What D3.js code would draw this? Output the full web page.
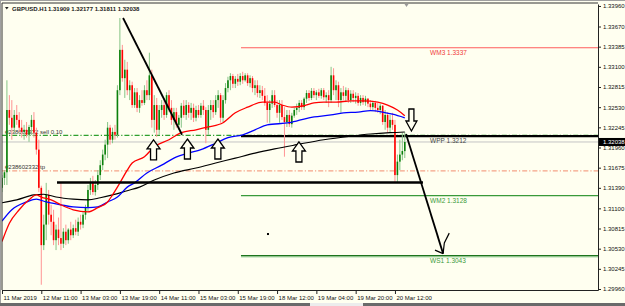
<!DOCTYPE html>
<html>
<head>
<meta charset="utf-8">
<script src="https://cdn.jsdelivr.net/npm/d3@7"></script>
<style>
body { margin: 0; background: #fffff0; }
svg { display: block; font-family: "Liberation Sans", Arial, sans-serif; }
</style>
</head>
<body>
<div id="chart"></div>
<script>
// GBPUSD H1 bars (bar 0 = 11 Mar 2019 19:00)
const opens = [
 1.3139,1.3153,1.3161,1.3249,1.3238,1.3224,1.3242,1.3235,1.3224,1.3218,
 1.3221,1.3214,1.3225,1.3235,1.3217,1.3193,1.3139,1.3058,1.3087,1.3129,
 1.3101,1.3091,1.3065,1.3080,1.3068,1.3060,1.3077,1.3065,1.3080,1.3072,
 1.3082,1.3077,1.3091,1.3087,1.3101,1.3111,1.3136,1.3146,1.3133,1.3143,
 1.3157,1.3171,1.3186,1.3200,1.3224,1.3207,1.3218,1.3214,1.3277,1.3334,
 1.3294,1.3306,1.3277,1.3284,1.3256,1.3274,1.3252,1.3263,1.3259,1.3277,
 1.3270,1.3298,1.3235,1.3256,1.3221,1.3249,1.3256,1.3242,1.3270,1.3252,
 1.3235,1.3246,1.3228,1.3238,1.3255,1.3242,1.3256,1.3245,1.3252,1.3238,
 1.3249,1.3242,1.3255,1.3249,1.3221,1.3249,1.3256,1.3246,1.3263,1.3270,
 1.3238,1.3263,1.3280,1.3291,1.3297,1.3286,1.3293,1.3289,1.3297,1.3291,
 1.3298,1.3287,1.3294,1.3280,1.3284,1.3273,1.3277,1.3269,1.3259,1.3249,
 1.3258,1.3270,1.3256,1.3245,1.3256,1.3239,1.3232,1.3242,1.3229,1.3241,
 1.3249,1.3252,1.3259,1.3253,1.3265,1.3273,1.3266,1.3276,1.3270,1.3274,
 1.3269,1.3277,1.3267,1.3270,1.3263,1.3298,1.3277,1.3284,1.3263,1.3274,
 1.3269,1.3277,1.3263,1.3272,1.3266,1.3269,1.3259,1.3266,1.3260,1.3265,
 1.3258,1.3253,1.3259,1.3252,1.3249,1.3255,1.3232,1.3242,1.3224,1.3235,
 1.3228,1.3157,1.3176,1.3186,1.31909
];
const highs = [
 1.3157,1.3164,1.3291,1.3270,1.3263,1.3249,1.3256,1.3246,1.3235,1.3228,
 1.3232,1.3228,1.3242,1.3246,1.3224,1.3207,1.3142,1.3101,1.3146,1.3136,
 1.3115,1.3108,1.3087,1.3097,1.3146,1.3082,1.3087,1.3082,1.3091,1.3087,
 1.3094,1.3097,1.3101,1.3105,1.3115,1.3143,1.3153,1.3156,1.3150,1.3164,
 1.3178,1.3193,1.3207,1.3232,1.3228,1.3224,1.3228,1.3284,1.3379,1.3341,
 1.3320,1.3317,1.3291,1.3289,1.3280,1.3280,1.3270,1.3277,1.3284,1.3291,
 1.3330,1.3306,1.3270,1.3266,1.3256,1.3263,1.3266,1.3274,1.3277,1.3263,
 1.3252,1.3252,1.3242,1.3259,1.3263,1.3263,1.3260,1.3259,1.3258,1.3255,
 1.3256,1.3259,1.3263,1.3253,1.3256,1.3263,1.3263,1.3270,1.3277,1.3273,
 1.3270,1.3287,1.3296,1.3301,1.3300,1.3297,1.3300,1.3301,1.3303,1.3301,
 1.3301,1.3298,1.3297,1.3291,1.3291,1.3284,1.3283,1.3280,1.3270,1.3263,
 1.3277,1.3277,1.3263,1.3263,1.3263,1.3253,1.3249,1.3249,1.3245,1.3252,
 1.3258,1.3263,1.3263,1.3267,1.3277,1.3277,1.3280,1.3280,1.3277,1.3279,
 1.3280,1.3280,1.3274,1.3277,1.3310,1.3308,1.3291,1.3289,1.3280,1.3283,
 1.3281,1.3280,1.3277,1.3277,1.3274,1.3273,1.3270,1.3270,1.3269,1.3266,
 1.3263,1.3262,1.3262,1.3259,1.3258,1.3256,1.3249,1.3246,1.3242,1.3245,
 1.3235,1.3186,1.3207,1.3217,1.32177
];
const lows = [
 1.3133,1.3143,1.3143,1.3228,1.3207,1.3218,1.3228,1.3218,1.3210,1.3207,
 1.3210,1.3204,1.3214,1.3210,1.3186,1.3133,1.3002,1.3051,1.3065,1.3087,
 1.3072,1.3058,1.3051,1.3058,1.3051,1.3054,1.3058,1.3060,1.3065,1.3068,
 1.3072,1.3071,1.3080,1.3082,1.3094,1.3105,1.3129,1.3129,1.3128,1.3136,
 1.3150,1.3164,1.3178,1.3181,1.3200,1.3202,1.3207,1.3210,1.3270,1.3289,
 1.3266,1.3270,1.3263,1.3252,1.3252,1.3246,1.3245,1.3255,1.3256,1.3263,
 1.3263,1.3224,1.3217,1.3211,1.3214,1.3238,1.3235,1.3238,1.3246,1.3228,
 1.3221,1.3224,1.3221,1.3224,1.3238,1.3235,1.3238,1.3235,1.3232,1.3233,
 1.3238,1.3238,1.3242,1.3202,1.3214,1.3235,1.3238,1.3242,1.3252,1.3231,
 1.3232,1.3258,1.3274,1.3277,1.3280,1.3280,1.3283,1.3284,1.3286,1.3289,
 1.3283,1.3281,1.3274,1.3270,1.3267,1.3266,1.3263,1.3255,1.3231,1.3231,
 1.3252,1.3253,1.3238,1.3231,1.3235,1.3183,1.3225,1.3225,1.3224,1.3238,
 1.3242,1.3246,1.3249,1.3249,1.3259,1.3262,1.3263,1.3266,1.3263,1.3266,
 1.3265,1.3263,1.3259,1.3253,1.3259,1.3270,1.3263,1.3253,1.3245,1.3263,
 1.3260,1.3259,1.3259,1.3260,1.3258,1.3255,1.3255,1.3256,1.3255,1.3253,
 1.3249,1.3249,1.3246,1.3245,1.3243,1.3228,1.3221,1.3217,1.3217,1.3221,
 1.3146,1.3146,1.3164,1.3178,1.31811
];
const closes = [
 1.3153,1.3161,1.3249,1.3238,1.3224,1.3242,1.3235,1.3224,1.3218,1.3221,
 1.3214,1.3225,1.3235,1.3217,1.3193,1.3139,1.3058,1.3087,1.3129,1.3101,
 1.3091,1.3065,1.3080,1.3068,1.3060,1.3077,1.3065,1.3080,1.3072,1.3082,
 1.3077,1.3091,1.3087,1.3101,1.3111,1.3136,1.3146,1.3133,1.3143,1.3157,
 1.3171,1.3186,1.3200,1.3224,1.3207,1.3218,1.3214,1.3277,1.3334,1.3294,
 1.3306,1.3277,1.3284,1.3256,1.3274,1.3252,1.3263,1.3259,1.3277,1.3270,
 1.3298,1.3235,1.3256,1.3221,1.3249,1.3256,1.3242,1.3270,1.3252,1.3235,
 1.3246,1.3228,1.3238,1.3255,1.3242,1.3256,1.3245,1.3252,1.3238,1.3249,
 1.3242,1.3255,1.3249,1.3221,1.3249,1.3256,1.3246,1.3263,1.3270,1.3238,
 1.3263,1.3280,1.3291,1.3297,1.3286,1.3293,1.3289,1.3297,1.3291,1.3298,
 1.3287,1.3294,1.3280,1.3284,1.3273,1.3277,1.3269,1.3259,1.3249,1.3258,
 1.3270,1.3256,1.3245,1.3256,1.3239,1.3232,1.3242,1.3229,1.3241,1.3249,
 1.3252,1.3259,1.3253,1.3265,1.3273,1.3266,1.3276,1.3270,1.3274,1.3269,
 1.3277,1.3267,1.3270,1.3263,1.3298,1.3277,1.3284,1.3263,1.3274,1.3269,
 1.3277,1.3263,1.3272,1.3266,1.3269,1.3259,1.3266,1.3260,1.3265,1.3258,
 1.3253,1.3259,1.3252,1.3249,1.3255,1.3232,1.3242,1.3224,1.3235,1.3228,
 1.3157,1.3176,1.3186,1.3191,1.32038
];

// moving averages as [bar, price]
const maRed = [[0,1.3063],[3,1.3089],[7,1.3108],[11,1.3122],[14,1.3129],[16,1.3126],[20,1.3122],[24,1.3115],
 [29,1.3108],[35,1.3105],[39,1.3111],[43,1.3119],[45,1.3129],[48,1.3146],[51,1.3164],[53,1.3174],[58,1.3183],
 [62,1.3197],[68,1.3207],[73,1.3217],[79,1.3221],[84,1.3225],[90,1.3231],[95,1.3245],[100,1.3253],[106,1.3260],
 [111,1.3260],[114,1.3256],[118,1.3253],[123,1.3255],[127,1.3259],[131,1.3260],[136,1.3260],[142,1.3262],
 [147,1.3262],[153,1.3260],[157,1.3256],[161,1.3249],[164,1.3241]];
const maBlue = [[0,1.3092],[4,1.3108],[10,1.3119],[14,1.3123],[18,1.3119],[24,1.3115],[29,1.3112],[35,1.3111],
 [39,1.3112],[43,1.3119],[47,1.3126],[51,1.3140],[54,1.3146],[59,1.3160],[65,1.3171],[70,1.3181],[76,1.3188],
 [81,1.3193],[87,1.3202],[92,1.3210],[98,1.3214],[103,1.3221],[108,1.3228],[117,1.3231],[125,1.3238],
 [134,1.3242],[139,1.3245],[145,1.3246],[150,1.3248],[155,1.3246],[159,1.3243],[164,1.3238]];
const maBlack = [[0,1.3118],[6,1.3122],[13,1.3129],[17,1.3130],[22,1.3126],[29,1.3123],[35,1.3122],[40,1.3125],
 [45,1.3129],[51,1.3135],[56,1.3140],[62,1.3150],[70,1.3160],[79,1.3167],[87,1.3174],[95,1.3181],[103,1.3188],
 [111,1.3194],[120,1.3200],[131,1.3207],[142,1.3212],[150,1.3215],[158,1.3217],[164,1.3218]];

// axes
const priceTicks = [1.33960,1.33670,1.33385,1.33100,1.32815,1.32530,1.32245,1.31960,1.31675,1.31390,1.31100,1.30815,1.30530,1.30245,1.29960];
const timeTickBars = [0,16,32,48,64,80,96,112,128,144,160];
const timeTickLabels = ["11 Mar 2019","12 Mar 11:00","13 Mar 03:00","13 Mar 19:00","14 Mar 11:00","15 Mar 03:00",
 "15 Mar 19:00","18 Mar 12:00","19 Mar 04:00","19 Mar 20:00","20 Mar 12:00"];
const header = ["GBPUSD.H1", "1.31909 1.32177 1.31811 1.32038"];
const bid = 1.32038;

// weekly pivots (start bar of the week)
const pivotNames = ["WM3","WPP","WM2","WS1"];
const pivotValues = [1.3337, 1.3212, 1.3128, 1.3043];
const pivotStart = 97.3;
const pivotLabelBar = 174.3;

// order lines
const orderLabels = ["#238602332 sell 0.10", "#238602332 tp"];
const orderPrices = [1.3213, 1.3163];

// hand drawn objects: [bar, price]
const trendLine = [[49.3,1.3379],[73.3,1.3214]];
const projLine = [[164.5,1.3215],[179.6,1.3046]];
const projHeadL = [[176.3,1.3051],[179.6,1.3046]];
const projHeadR = [[179.6,1.3046],[180.1,1.3061],[182.1,1.3075]];
const supportLine = [[22.4,1.31465],[171.4,1.31465]];
const upArrows = [[61.7,1.32067],[75.5,1.3208],[87.9,1.3208],[120.9,1.32038]];
const downArrows = [[166.7,1.32193]];
const dotMark = [108.3,1.30737];

const W = 625, H = 306;
const L = 2, R = 598, T = 3, B = 290;

const svg = d3.select("#chart").append("svg").attr("width", W).attr("height", H);
svg.append("rect").attr("width", W).attr("height", H).attr("fill", "#fffff0");

const x = d3.scaleLinear().domain([0, 242.67]).range([L, R]);
const y = d3.scaleLinear().domain([1.29946, 1.33988]).range([B, 4]);

svg.append("clipPath").attr("id", "clip")
  .append("rect").attr("x", L).attr("y", T).attr("width", R - L).attr("height", B - T);
const g = svg.append("g").attr("clip-path", "url(#clip)");

const line = d3.line().x(d => x(d[0])).y(d => y(d[1]));

// bid line
g.append("line").attr("x1", L).attr("x2", R).attr("y1", y(bid)).attr("y2", y(bid))
  .attr("stroke", "#c4c4c4").attr("stroke-width", 1);

// order lines
const orderColors = ["#2fa02f", "#f5a488"];
orderPrices.forEach((p, i) => {
  g.append("line").attr("x1", L).attr("x2", R).attr("y1", y(p)).attr("y2", y(p))
    .attr("stroke", orderColors[i]).attr("stroke-width", 1.2).attr("stroke-dasharray", "5,2,1.2,2");
  g.append("text").attr("x", 5).attr("y", y(p) - 1.6).attr("font-size", 6).attr("fill", "#333")
    .text(orderLabels[i]);
});

// pivots
const pivotColors = ["#ff5c5c", "#000", "#3a9a3a", "#1d741d"];
const pivotWidths = [1.2, 2.4, 1.1, 1.6];
const pivotText = ["#f03a3a", "#444", "#3a9a3a", "#3a9a3a"];
pivotValues.forEach((p, i) => {
  g.append("line").attr("x1", x(pivotStart)).attr("x2", R).attr("y1", y(p)).attr("y2", y(p))
    .attr("stroke", pivotColors[i]).attr("stroke-width", pivotWidths[i]);
  g.append("text").attr("x", x(pivotLabelBar)).attr("y", y(p) + 7.2).attr("font-size", 6.5)
    .attr("fill", pivotText[i]).text(pivotNames[i] + " " + p.toFixed(4));
});
g.append("line").attr("x1", x(pivotStart)).attr("x2", R)
  .attr("y1", y(pivotValues[3]) + 1.2).attr("y2", y(pivotValues[3]) + 1.2)
  .attr("stroke", "#9ad49a").attr("stroke-width", 0.9);

// candles
const bars = d3.range(opens.length).map(i => ({i, o: opens[i], h: highs[i], l: lows[i], c: closes[i]}));
g.selectAll(".wick").data(bars).enter().append("line")
  .attr("x1", d => x(d.i)).attr("x2", d => x(d.i))
  .attr("y1", d => y(d.h)).attr("y2", d => y(d.l))
  .attr("stroke", d => d.c >= d.o ? "#86c486" : "#ff9494").attr("stroke-width", 1);
g.selectAll(".body").data(bars).enter().append("rect")
  .attr("x", d => x(d.i) - 0.8).attr("width", 1.6)
  .attr("y", d => y(Math.max(d.o, d.c)))
  .attr("height", d => Math.max(0.8, Math.abs(y(d.o) - y(d.c))))
  .attr("fill", d => d.c >= d.o ? "#0b800b" : "#ff0000");

// moving averages
const curve = d3.line().x(d => x(d[0])).y(d => y(d[1])).curve(d3.curveMonotoneX);
g.append("path").attr("d", curve(maBlack)).attr("fill", "none").attr("stroke", "#000").attr("stroke-width", 1.1);
g.append("path").attr("d", curve(maBlue)).attr("fill", "none").attr("stroke", "#0000ff").attr("stroke-width", 1.3);
g.append("path").attr("d", curve(maRed)).attr("fill", "none").attr("stroke", "#ff0000").attr("stroke-width", 1.3);

// drawn objects
g.append("path").attr("d", line(supportLine)).attr("stroke", "#000").attr("stroke-width", 2.4);
g.append("path").attr("d", line(trendLine)).attr("stroke", "#000").attr("stroke-width", 1.8);
g.append("path").attr("d", line(projLine)).attr("stroke", "#000").attr("stroke-width", 1.8);
g.append("path").attr("d", line(projHeadL)).attr("fill", "none").attr("stroke", "#000").attr("stroke-width", 1.2);
g.append("path").attr("d", line(projHeadR)).attr("fill", "none").attr("stroke", "#000").attr("stroke-width", 1.2);
g.append("rect").attr("x", x(dotMark[0]) - 1).attr("y", y(dotMark[1]) - 1).attr("width", 2).attr("height", 2).attr("fill", "#000");

function upArrow(cx, ty) {
  return `M${cx},${ty} L${cx + 6.5},${ty + 9} L${cx + 3},${ty + 9} L${cx + 3},${ty + 20} L${cx - 3},${ty + 20} L${cx - 3},${ty + 9} L${cx - 6.5},${ty + 9} Z`;
}
function downArrow(cx, by) {
  return `M${cx},${by} L${cx + 5.5},${by - 10} L${cx + 2.5},${by - 10} L${cx + 2.5},${by - 22} L${cx - 2.5},${by - 22} L${cx - 2.5},${by - 10} L${cx - 5.5},${by - 10} Z`;
}
upArrows.forEach(a => {
  g.append("path").attr("d", upArrow(x(a[0]), y(a[1]))).attr("fill", "#fffff0")
    .attr("stroke", "#000").attr("stroke-width", 1.3);
});
downArrows.forEach(a => {
  g.append("path").attr("d", downArrow(x(a[0]), y(a[1]))).attr("fill", "#fffff0")
    .attr("stroke", "#000").attr("stroke-width", 1.3);
});

// frame
svg.append("line").attr("x1", 0).attr("x2", W).attr("y1", 0.5).attr("y2", 0.5).attr("stroke", "#a0a0a0");
svg.append("line").attr("x1", L).attr("x2", R).attr("y1", T).attr("y2", T).attr("stroke", "#333").attr("stroke-width", 1);
svg.append("line").attr("x1", 0.5).attr("x2", 0.5).attr("y1", 0).attr("y2", 303).attr("stroke", "#a0a0a0");
svg.append("line").attr("x1", L).attr("x2", L).attr("y1", T).attr("y2", B).attr("stroke", "#333").attr("stroke-width", 1);
svg.append("path").attr("d", "M404.5,4 L408.5,4 L406.5,7 Z").attr("fill", "#999");

// price axis
const yAxis = svg.append("g").attr("transform", `translate(${R},0)`)
  .call(d3.axisRight(y).tickValues(priceTicks).tickSize(3).tickSizeOuter(0).tickPadding(2).tickFormat(d3.format(".5f")));
yAxis.select(".domain").attr("stroke", "#222");
yAxis.selectAll("line").attr("stroke", "#222");
yAxis.selectAll("text").attr("font-size", 6).attr("fill", "#111").attr("font-family", "Liberation Sans, Arial");

// time axis
const xAxis = svg.append("g").attr("transform", `translate(0,${B})`)
  .call(d3.axisBottom(x).tickValues(timeTickBars).tickSize(4).tickSizeOuter(0)
    .tickFormat((d, i) => timeTickLabels[i]));
xAxis.select(".domain").attr("stroke", "#222");
xAxis.selectAll("line").attr("stroke", "#222");
xAxis.selectAll("text").attr("font-size", 6).attr("fill", "#111").attr("font-family", "Liberation Sans, Arial")
  .attr("text-anchor", "start").attr("dx", 1).attr("y", 9.5).attr("dy", 0);

// current price tag
svg.append("rect").attr("x", R + 1).attr("y", y(bid) - 4).attr("width", W - R - 1).attr("height", 8).attr("fill", "#000");
svg.append("text").attr("x", R + 5).attr("y", y(bid) + 2.2).attr("font-size", 6).attr("fill", "#fff").text(bid.toFixed(5));

// header
svg.append("path").attr("d", "M5,7 L8.6,7 L6.8,9.6 Z").attr("fill", "#222");
svg.append("text").attr("x", 12).attr("y", 10.6).attr("font-size", 6).attr("font-weight", "bold").attr("fill", "#1a1a1a").text(header[0]);
svg.append("text").attr("x", 48).attr("y", 10.6).attr("font-size", 6).attr("font-weight", "bold").attr("fill", "#1a1a1a").text(header[1]);

// window bottom edge
svg.append("rect").attr("x", 0).attr("y", 303).attr("width", W).attr("height", 3).attr("fill", "#6a6a6a");
svg.append("rect").attr("x", 310).attr("y", 303).attr("width", 53).attr("height", 3).attr("fill", "#ececec");
</script>
</body>
</html>
